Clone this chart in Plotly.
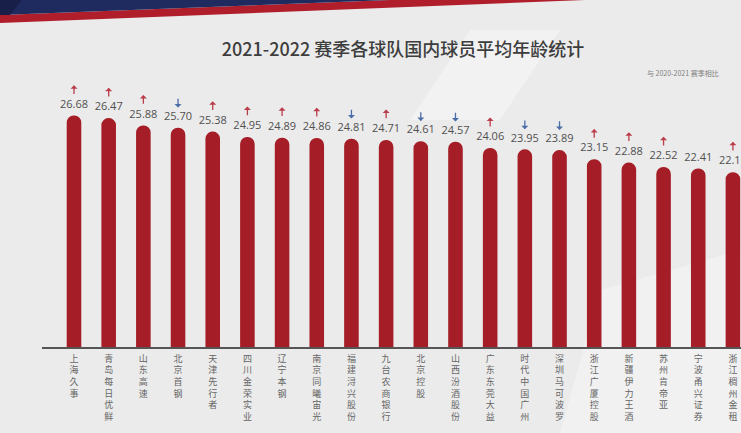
import plotly.graph_objects as go

# ---- data ----
teams = ["上海久事", "青岛每日优鲜", "山东高速", "北京首钢", "天津先行者", "四川金荣实业",
         "辽宁本钢", "南京同曦宙光", "福建浔兴股份", "九台农商银行", "北京控股", "山西汾酒股份",
         "广东东莞大益", "时代中国广州", "深圳马可波罗", "浙江广厦控股", "新疆伊力王酒",
         "苏州肯帝亚", "宁波甬兴证券", "浙江稠州金租"]
ages = [26.68, 26.47, 25.88, 25.70, 25.38, 24.95, 24.89, 24.86, 24.81, 24.71,
        24.61, 24.57, 24.06, 23.95, 23.89, 23.15, 22.88, 22.52, 22.41, 22.11]
trend = ["up", "up", "up", "down", "up", "up", "up", "up", "down", "up",
         "down", "down", "up", "down", "down", "up", "up", "up", "", "up"]
title_text = "2021-2022 赛季各球队国内球员平均年龄统计"
note_text = "与 2020-2021 赛季相比"

W, H = 741, 433
L, B = 42, 86          # plot area margins (px)
PW, PH = W - L, H - B

def px2paper(x, y):
    return (x - L) / PW, 1 - y / PH

def path(points):
    pts = [px2paper(x, y) for x, y in points]
    return "M " + " L ".join(f"{a:.4f},{b:.4f}" for a, b in pts) + " Z"

xs = list(range(len(teams)))
ticktext = ["<br>".join(list(t)) for t in teams]

fig = go.Figure()

fig.add_trace(go.Bar(
    x=xs, y=ages, base=0, width=0.42,
    marker=dict(color="#a51d26", line=dict(width=0), cornerradius=7),
    hoverinfo="x+y", showlegend=False,
))

fig.add_trace(go.Scatter(
    x=xs, y=[v + 0.85 for v in ages], mode="text",
    text=[f"{v:.2f}" for v in ages], textposition="middle center",
    textfont=dict(family="Open Sans, Noto Sans", size=11, color="#505050"),
    showlegend=False, hoverinfo="skip", cliponaxis=False,
))

annotations = []
for i, (v, t) in enumerate(zip(ages, trend)):
    if not t:
        continue
    lo, hi = v + 1.62, v + 2.45
    if t == "up":
        head, tail, col = hi, lo, "#bb3d4a"
    else:
        head, tail, col = lo, hi, "#4b6ea8"
    annotations.append(dict(
        x=i, y=head, ax=i, ay=tail, xref="x", yref="y", axref="x", ayref="y",
        text="", showarrow=True, arrowhead=1, arrowsize=0.9, arrowwidth=1.3,
        arrowcolor=col,
    ))

nx, ny = px2paper(645, 73)
annotations.append(dict(
    x=nx, y=ny, xref="paper", yref="paper", text=note_text, showarrow=False,
    xanchor="left", yanchor="middle",
    font=dict(family="Noto Sans CJK SC", size=7, color="#808080"),
))

shapes = [
    # soft lighter diagonal shades in background
    dict(type="path", path=path([(470, 30), (560, 30), (500, 120), (410, 120)]),
         xref="paper", yref="paper", fillcolor="rgba(255,255,255,0.35)", line=dict(width=0), layer="below"),
    dict(type="path", path=path([(600, 290), (741, 250), (741, 433), (560, 433)]),
         xref="paper", yref="paper", fillcolor="rgba(255,255,255,0.3)", line=dict(width=0), layer="below"),
    # banner red stripe
    dict(type="path", path=path([(0, 15), (390, 0), (585, 0), (0, 23)]),
         xref="paper", yref="paper", fillcolor="#b01e2c", line=dict(width=0), layer="below"),
    # banner navy
    dict(type="path", path=path([(0, 0), (390, 0), (0, 15)]),
         xref="paper", yref="paper", fillcolor="#1f2a5e", line=dict(width=0), layer="below"),
    dict(type="path", path=path([(0, 0), (22, 0), (10, 15), (0, 15)]),
         xref="paper", yref="paper", fillcolor="#18204a", line=dict(width=0), layer="below"),
]

fig.update_layout(
    width=W, height=H,
    margin=dict(l=L, r=0, t=0, b=B),
    paper_bgcolor="#ebebeb", plot_bgcolor="rgba(0,0,0,0)",
    title=dict(text=title_text, x=403 / W, y=1 - 50 / H, xanchor="center", yanchor="middle",
               xref="container", yref="container",
               font=dict(family="Noto Sans CJK SC", size=18, color="#3d3d3d", weight=500)),
    xaxis=dict(
        range=[(L - 74) / 34.68, (W - 74) / 34.68],
        tickmode="array", tickvals=xs, ticktext=ticktext,
        showgrid=False, zeroline=False, showline=True, linecolor="#555555", linewidth=1.5,
        ticks="", ticklabelstandoff=2,
        tickfont=dict(family="Noto Sans CJK SC", size=9, color="#666666"),
        fixedrange=True,
    ),
    yaxis=dict(range=[8, 36], visible=False, showgrid=False, zeroline=False, fixedrange=True),
    shapes=shapes,
    annotations=annotations,
    bargap=0.6,
)

fig.write_html("out.html", config={"displayModeBar": False},
               post_script="document.body.style.margin='0';document.body.style.background='#ebebeb';")
